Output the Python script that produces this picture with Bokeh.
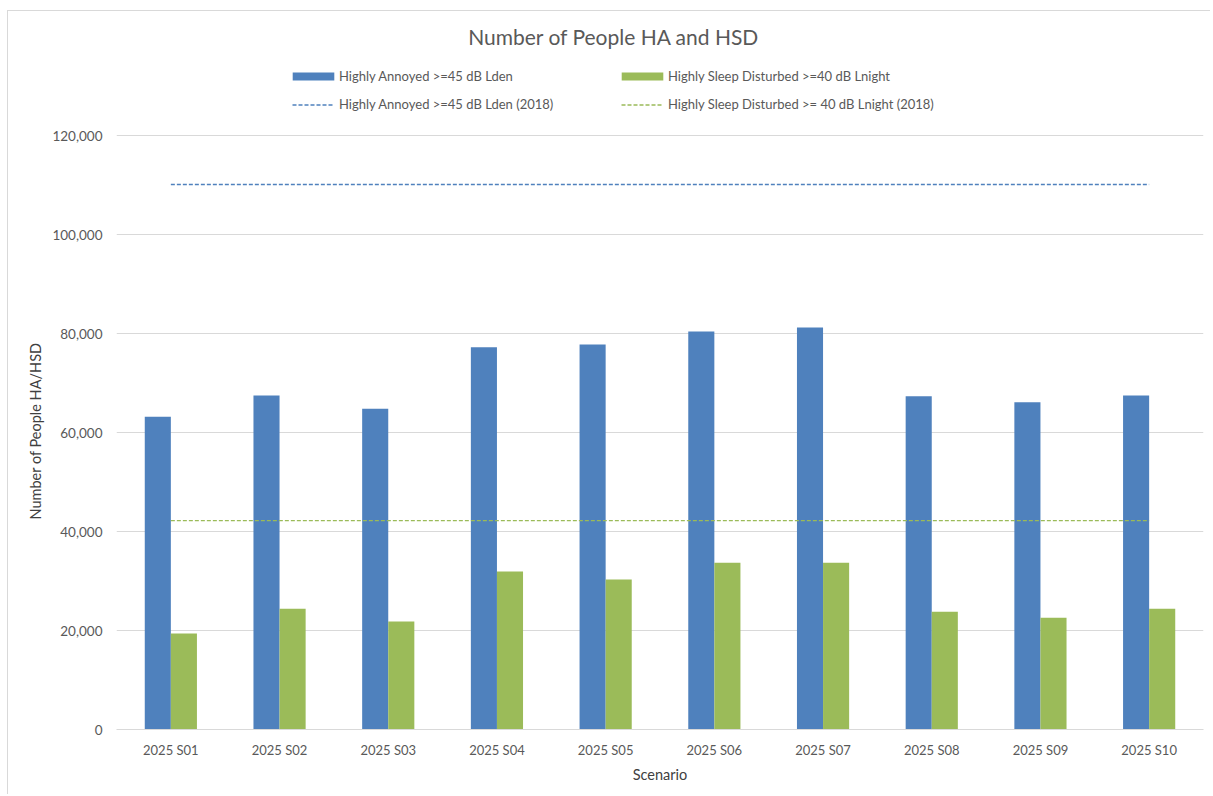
from bokeh.plotting import figure
from bokeh.models import (ColumnDataSource, Legend, LegendItem, NumeralTickFormatter,
                          Range1d, FixedTicker, Label, Title)
from bokeh.transform import dodge
from bokeh.embed import file_html
from bokeh.resources import INLINE

scenarios = ["2025 S01", "2025 S02", "2025 S03", "2025 S04", "2025 S05",
             "2025 S06", "2025 S07", "2025 S08", "2025 S09", "2025 S10"]
ha_values = [63200, 67500, 64800, 77200, 77800, 80400, 81200, 67300, 66100, 67500]
hsd_values = [19400, 24400, 21800, 31900, 30300, 33700, 33700, 23800, 22600, 24400]
ha_2018 = 110100
hsd_2018 = 42200
y_ticks = [0, 20000, 40000, 60000, 80000, 100000, 120000]
y_max = 120000

title_text = "Number of People HA and HSD"
x_title = "Scenario"
y_title = "Number of People HA/HSD"
labels = ["Highly Annoyed >=45 dB Lden",
          "Highly Sleep Disturbed >=40 dB Lnight",
          "Highly Annoyed >=45 dB Lden (2018)",
          "Highly Sleep Disturbed >= 40 dB Lnight (2018)"]

BLUE = "#4F81BD"
GREEN = "#9BBB59"
FONT = "Lato"

# layout (pixels): the plot frame spans the full height; the value axis
# occupies only its lower 594 px, the space above holds title and legend
FRAME_H = 718
AXIS_H = 594
units_per_px = y_max / AXIS_H

src = ColumnDataSource(dict(x=scenarios, ha=ha_values, hsd=hsd_values))

p = figure(x_range=scenarios, y_range=Range1d(0, y_max * FRAME_H / AXIS_H),
           width=1203, height=784, output_backend="svg", toolbar_location=None,
           min_border_left=108, min_border_right=8, min_border_top=0,
           min_border_bottom=66, title=None)
p.styles = {"border-left": "1px solid #d9d9d9", "border-top": "1px solid #d9d9d9",
            "margin": "10px 0px 0px 7px"}

r_ha = p.vbar(x=dodge("x", -0.12, range=p.x_range), top="ha", width=0.24,
              source=src, fill_color=BLUE, line_color=None)
r_hsd = p.vbar(x=dodge("x", 0.12, range=p.x_range), top="hsd", width=0.24,
               source=src, fill_color=GREEN, line_color=None)
r_ha18 = p.line(x=[scenarios[0], scenarios[-1]], y=[ha_2018, ha_2018],
                line_color=BLUE, line_dash="4 2", line_width=1.3)
r_hsd18 = p.line(x=[scenarios[0], scenarios[-1]], y=[hsd_2018, hsd_2018],
                 line_color=GREEN, line_dash="4 2", line_width=1.3)

title = Label(x=len(scenarios) / 2, x_offset=-46,
              y=y_max + (135 - 36) * units_per_px,
              text=title_text, text_align="center", text_baseline="middle",
              text_font=FONT, text_font_size="21px", text_color="#595959")
p.add_layout(title)

p.outline_line_color = None
p.xgrid.grid_line_color = None
p.ygrid.grid_line_color = "#d9d9d9"
p.ygrid.grid_line_width = 1

p.yaxis.ticker = FixedTicker(ticks=y_ticks)
p.yaxis.formatter = NumeralTickFormatter(format="0,0")
p.yaxis.axis_line_color = None
p.yaxis.major_label_standoff = 14

p.xaxis.axis_line_color = "#d9d9d9"
p.xaxis.axis_line_width = 1
p.xaxis.major_label_standoff = 12
p.xaxis.axis_label = x_title
p.xaxis.axis_label_standoff = 5

for ax in (p.xaxis[0], p.yaxis[0]):
    ax.major_tick_line_color = None
    ax.minor_tick_line_color = None
    ax.major_tick_out = 0
    ax.major_tick_in = 0
    ax.minor_tick_out = 0
    ax.minor_tick_in = 0
    ax.major_label_text_font = FONT
    ax.major_label_text_font_size = "13px"
    ax.major_label_text_color = "#595959"
    ax.axis_label_text_font = FONT
    ax.axis_label_text_font_size = "14.5px"
    ax.axis_label_text_font_style = "normal"
    ax.axis_label_text_color = "#404040"
p.yaxis.major_label_text_font_size = "13.5px"

# value-axis title, centred on the value axis (not on the full frame)
ytitle = Title(text=y_title, align="left", offset=210, standoff=12,
               text_font=FONT, text_font_size="14.5px", text_font_style="normal",
               text_color="#404040")
p.add_layout(ytitle, "left")


def make_legend(items, loc, gw, gh, standoff, lw):
    return Legend(items=items, orientation="horizontal", location=loc,
                  glyph_width=gw, glyph_height=gh, label_width=lw, label_height=20,
                  label_standoff=standoff, spacing=0, padding=0, margin=0,
                  border_line_color=None, background_fill_alpha=0,
                  label_text_font=FONT, label_text_font_size="13px",
                  label_text_color="#595959")


lg1 = make_legend([LegendItem(label=labels[0], renderers=[r_ha]),
                   LegendItem(label=labels[1], renderers=[r_hsd])],
                  (171, 643), 52, 10, 0, 277)
lg2 = make_legend([LegendItem(label=labels[2], renderers=[r_ha18]),
                   LegendItem(label=labels[3], renderers=[r_hsd18])],
                  (176, 615), 42, 9, 5, 282)
p.add_layout(lg1, "center")
p.add_layout(lg2, "center")

open("out.html", "w").write(file_html(p, INLINE))
